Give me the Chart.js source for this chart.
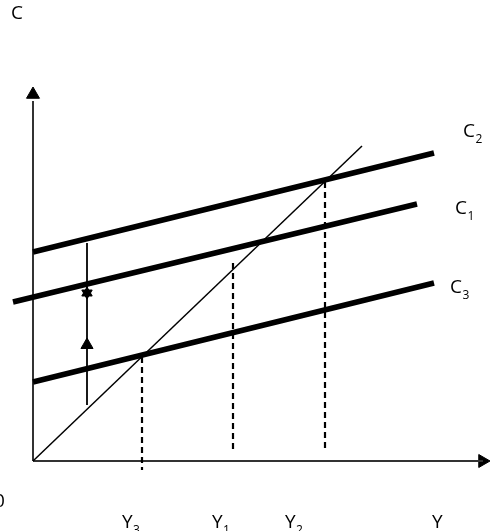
<!DOCTYPE html>
<html>
<head>
<meta charset="utf-8">
<script src="https://cdn.jsdelivr.net/npm/chart.js@4"></script>
<style>
 html,body{margin:0;padding:0;background:#fff;}
 canvas{display:block;}
</style>
</head>
<body>
<canvas id="c" width="495" height="531"></canvas>
<script>
// consumption lines (start, end) in model units
const c2Line=[{x:0,y:20.9},{x:40.1,y:30.8}];
const c1Line=[{x:-2.0,y:15.9},{x:38.4,y:25.7}];
const c3Line=[{x:0,y:7.9},{x:40.1,y:17.8}];
const line45=[{x:0,y:0},{x:32.9,y:31.5}];

// dashed income drops
const dropX=[10.9,20.0,29.2];
const dropTop=[10.4,19.8,27.9];
const dropBottom=[-0.9,0.9,1.1];

// shift arrow
const shiftX=5.4;
const shiftFrom=5.6;
const shiftTo=21.8;
const shiftUpHead=11.6;
const shiftStar=16.8;

// axes
const cAxisTop=36.0;
const cAxisHead=36.65;
const yAxisEnd=45.0;
const yAxisHead=44.95;

// text
const labelText=["C","0","Y","Y","Y","Y","C","C","C"];
const labelSub=["","","3","1","2","","2","1","3"];
const labelX=[-2.2,-3.9,8.9,17.9,25.2,39.9,43.0,42.2,41.7];
const labelY=[44.2,-4.6,-6.7,-6.7,-6.7,-6.7,32.4,24.7,16.8];

function seg(a,b){return [a,b];}

const datasets=[];
const thick={borderColor:"#000",borderWidth:5.5,pointRadius:0,showLine:true,fill:false};

datasets.push({data:c2Line,...thick});
datasets.push({data:c1Line,...thick});
datasets.push({data:c3Line,...thick});
datasets.push({data:line45,borderColor:"#000",borderWidth:1.5,pointRadius:0,showLine:true});

dropX.forEach((x,i)=>{
 datasets.push({data:seg({x,y:dropTop[i]},{x,y:dropBottom[i]}),borderColor:"#000",borderWidth:2.2,borderDash:[6,4],pointRadius:0,showLine:true});
});

// axes
datasets.push({data:seg({x:0,y:0},{x:0,y:cAxisTop}),borderColor:"#333",borderWidth:2,pointRadius:0,showLine:true});
datasets.push({data:seg({x:0,y:0},{x:yAxisEnd,y:0}),borderColor:"#333",borderWidth:2,pointRadius:0,showLine:true});
datasets.push({data:[{x:0,y:cAxisHead}],pointStyle:"triangle",pointRadius:7.5,rotation:0,backgroundColor:"#000",borderColor:"#000",borderWidth:1,showLine:false});
datasets.push({data:[{x:yAxisHead,y:0}],pointStyle:"triangle",pointRadius:7.5,rotation:90,backgroundColor:"#000",borderColor:"#000",borderWidth:1,showLine:false});

// shift arrow
datasets.push({data:seg({x:shiftX,y:shiftFrom},{x:shiftX,y:shiftTo}),borderColor:"#000",borderWidth:1.8,pointRadius:0,showLine:true});
datasets.push({data:[{x:shiftX,y:shiftUpHead}],pointStyle:"triangle",pointRadius:7,rotation:0,backgroundColor:"#000",borderColor:"#000",borderWidth:1,showLine:false});
datasets.push({data:[{x:shiftX,y:shiftStar}],pointStyle:"triangle",pointRadius:6,rotation:0,backgroundColor:"#000",borderColor:"#000",borderWidth:1,showLine:false});
datasets.push({data:[{x:shiftX,y:shiftStar}],pointStyle:"triangle",pointRadius:6,rotation:180,backgroundColor:"#000",borderColor:"#000",borderWidth:1,showLine:false});

const textPlugin={
 id:"labels",
 afterDatasetsDraw(chart){
  const ctx=chart.ctx;
  const sx=chart.scales.x,sy=chart.scales.y;
  ctx.save();
  ctx.fillStyle="#000";
  ctx.textBaseline="alphabetic";
  ctx.textAlign="left";
  labelText.forEach((t,i)=>{
   const px=sx.getPixelForValue(labelX[i]);
   const py=sy.getPixelForValue(labelY[i]);
   ctx.font="19px 'Open Sans'";
   ctx.fillText(t,px,py);
   if(labelSub[i]){
    const w=ctx.measureText(t).width;
    ctx.font="12px 'Open Sans'";
    ctx.fillText(labelSub[i],px+w+0.5,py+5.5);
   }
  });
  ctx.restore();
 }
};

new Chart(document.getElementById("c"),{
 type:"scatter",
 data:{datasets},
 options:{
  responsive:false,
  animation:false,
  layout:{padding:0,autoPadding:false},
  plugins:{legend:{display:false},tooltip:{enabled:false}},
  scales:{
   x:{type:"linear",display:false,min:-3.3,max:46.2},
   y:{type:"linear",display:false,min:-7.0,max:46.1}
  }
 },
 plugins:[textPlugin]
});
</script>
</body>
</html>
